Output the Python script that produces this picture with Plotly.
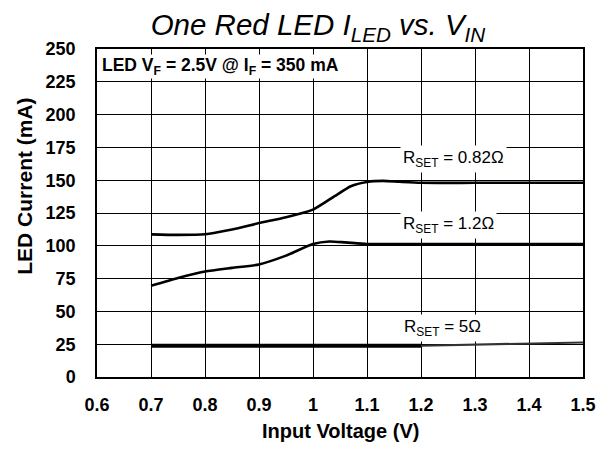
import plotly.graph_objects as go

# ---- data ----
vin_082 = [0.70, 0.75, 0.80, 0.85, 0.90, 0.95, 1.00, 1.04, 1.07, 1.10, 1.13, 1.16, 1.20, 1.30, 1.40, 1.50]
i_082 = [108.7, 108.3, 108.8, 112.5, 117.3, 121.8, 127.6, 137.8, 145.4, 148.7, 149.5, 148.8, 148.0, 148.0, 148.0, 148.0]

vin_12 = [0.70, 0.75, 0.80, 0.85, 0.90, 0.95, 1.00, 1.03, 1.06, 1.10, 1.20, 1.30, 1.40, 1.50]
i_12 = [69.5, 75.5, 80.4, 83.2, 85.8, 92.5, 101.3, 103.3, 102.6, 101.4, 101.3, 101.3, 101.3, 101.3]

vin_5a = [0.70, 0.80, 0.90, 1.00, 1.10, 1.20]
i_5a = [23.8, 23.8, 23.8, 23.8, 23.8, 23.8]
vin_5b = [1.20, 1.30, 1.40, 1.50]
i_5b = [23.8, 24.5, 25.3, 26.3]

x_ticks = [0.6, 0.7, 0.8, 0.9, 1.0, 1.1, 1.2, 1.3, 1.4, 1.5]
x_tick_labels = ["0.6", "0.7", "0.8", "0.9", "1", "1.1", "1.2", "1.3", "1.4", "1.5"]
y_ticks = [0, 25, 50, 75, 100, 125, 150, 175, 200, 225, 250]
y_tick_labels = [str(v) for v in y_ticks]

labels = ["R<sub>SET</sub> = 0.82Ω", "R<sub>SET</sub> = 1.2Ω", "R<sub>SET</sub> = 5Ω"]
label_x = [1.161, 1.161, 1.163]
label_y = [166.5, 116.0, 37.5]
note_text = "LED V<sub>F</sub> = 2.5V @ I<sub>F</sub> = 350 mA"
title_text = "One Red LED I<sub>LED</sub> vs. V<sub>IN</sub>"
x_title = "Input Voltage (V)"
y_title = "LED Current (mA)"

FONT = "Liberation Sans, Arial, sans-serif"

fig = go.Figure()
fig.add_trace(go.Scatter(x=vin_082, y=i_082, mode="lines", line=dict(color="black", width=2.6, shape="spline", smoothing=0.6), showlegend=False))
fig.add_trace(go.Scatter(x=vin_12, y=i_12, mode="lines", line=dict(color="black", width=2.6, shape="spline", smoothing=0.6), showlegend=False))
fig.add_trace(go.Scatter(x=vin_5a, y=i_5a, mode="lines", line=dict(color="black", width=3.8), showlegend=False))
fig.add_trace(go.Scatter(x=vin_5b, y=i_5b, mode="lines", line=dict(color="#333333", width=2.2), showlegend=False))

for t, x, y in zip(labels, label_x, label_y):
    fig.add_annotation(x=x, y=y, text=t, showarrow=False, xanchor="left", yanchor="middle",
                       font=dict(family=FONT, size=17, color="black"), bgcolor="white", borderpad=2)

fig.add_annotation(x=0.008, y=0.947, xref="paper", yref="paper", text="<b>" + note_text + "</b>",
                   showarrow=False, xanchor="left", yanchor="middle",
                   font=dict(family=FONT, size=17.5, color="black"), bgcolor="white", borderpad=0)

fig.add_annotation(x=0.5, y=-0.165, xref="paper", yref="paper", text="<b>" + x_title + "</b>",
                   showarrow=False, xanchor="center", yanchor="middle",
                   font=dict(family=FONT, size=20, color="black"))
fig.add_annotation(x=-0.151, y=0.582, xref="paper", yref="paper", text="<b>" + y_title + "</b>",
                   showarrow=False, xanchor="center", yanchor="middle", textangle=-90,
                   font=dict(family=FONT, size=21, color="black"))

fig.update_layout(
    width=603, height=451,
    margin=dict(l=89, r=28, t=41, b=82),
    paper_bgcolor="white", plot_bgcolor="white",
    title=dict(text="<i>" + title_text + "</i>", x=0.514, xanchor="center",
               y=0.962, yref="container", yanchor="middle",
               font=dict(family=FONT, size=29.5, color="black")),
    xaxis=dict(range=[0.6, 1.5], tickvals=x_ticks, ticktext=x_tick_labels,
               showgrid=True, gridcolor="black", gridwidth=1.2, zeroline=False,
               showline=True, linecolor="black", linewidth=1.5, mirror=True, ticks="",
               ticklabelstandoff=11,
               tickfont=dict(family=FONT, size=18, color="black", weight="bold")),
    yaxis=dict(range=[0, 250], tickvals=y_ticks, ticktext=y_tick_labels,
               showgrid=True, gridcolor="black", gridwidth=1.2, zeroline=False,
               showline=True, linecolor="black", linewidth=1.5, mirror=True, ticks="",
               ticklabelstandoff=16,
               tickfont=dict(family=FONT, size=18, color="black", weight="bold")),
)

fig.write_html("out.html")
